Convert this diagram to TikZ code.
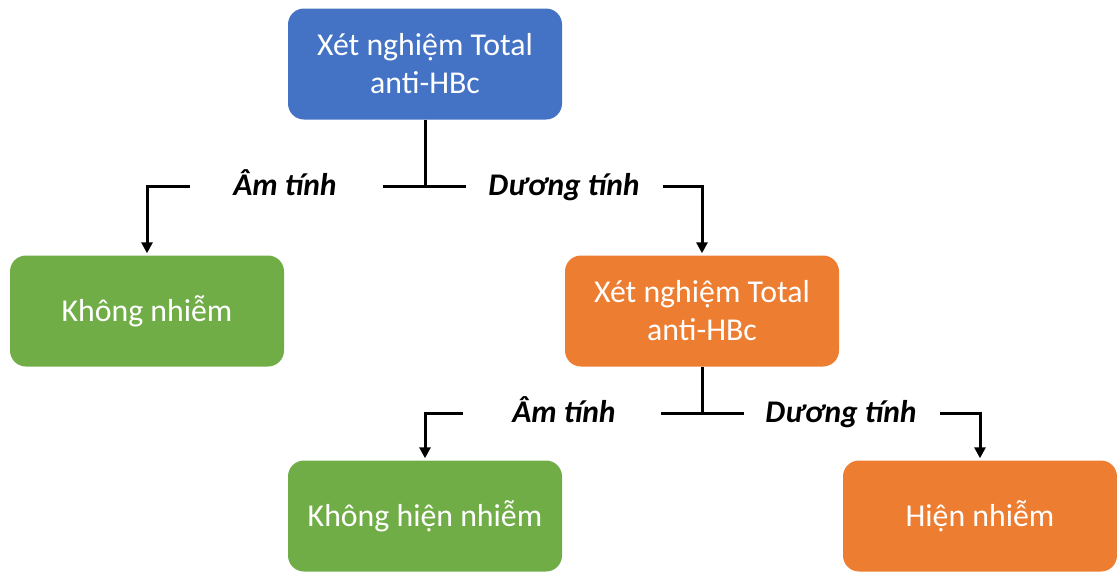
\documentclass[tikz,border=0pt]{standalone}
\usepackage{fontspec}
\setmainfont{Carlito}
\usetikzlibrary{arrows.meta}
\definecolor{oblue}{HTML}{4472C4}
\definecolor{ogreen}{HTML}{70AD47}
\definecolor{oorange}{HTML}{ED7D31}
\tikzset{
  box/.style={rounded corners=16pt, minimum width=274pt, minimum height=111pt,
    text=white, align=center, inner sep=0pt, font=\fontsize{31.8}{38}\selectfont},
  lbl/.style={font=\fontsize{31.5}{38}\selectfont\bfseries\itshape, inner sep=0pt, text=black, anchor=base},
  conn/.style={line width=3pt, black},
  arr/.style={conn, -{Triangle[length=11pt,width=11pt]}, shorten >=2pt}
}
\begin{document}
\begin{tikzpicture}[x=1pt,y=-1pt]
\useasboundingbox (0,0) rectangle (1117,571);
% boxes
\node[box, fill=oblue] (top) at (425,64) {Xét nghiệm Total\\anti-HBc};
\node[box, fill=ogreen] (k1) at (147,311) {Không nhiễm};
\node[box, fill=oorange] (mid) at (702,311) {Xét nghiệm Total\\anti-HBc};
\node[box, fill=ogreen] (k2) at (425,516) {Không hiện nhiễm};
\node[box, fill=oorange] (h) at (980,516) {Hiện nhiễm};
% labels
\node[lbl] (am1) at (285,195) {Âm tính};
\node[lbl] (du1) at (564,195) {Dương tính};
\node[lbl] (am2) at (564,422) {Âm tính};
\node[lbl] (du2) at (841,422) {Dương tính};
% coordinates
\coordinate (j1l) at (383,186);
\coordinate (j1r) at (466,186);
\coordinate (a1) at (190,186);
\coordinate (b1) at (663,186);
\coordinate (j2l) at (661,413);
\coordinate (j2r) at (744,413);
\coordinate (a2) at (463,413);
\coordinate (b2) at (940,413);
% connectors level 1
\draw[conn] (top.south) -- (top.south|-j1l);
\draw[conn] (j1l) -- (j1r);
\draw[arr] (a1) -| (k1.north);
\draw[arr] (b1) -| (mid.north);
% connectors level 2
\draw[conn] (mid.south) -- (mid.south|-j2l);
\draw[conn] (j2l) -- (j2r);
\draw[arr] (a2) -| (k2.north);
\draw[arr] (b2) -| (h.north);
\end{tikzpicture}
\end{document}
